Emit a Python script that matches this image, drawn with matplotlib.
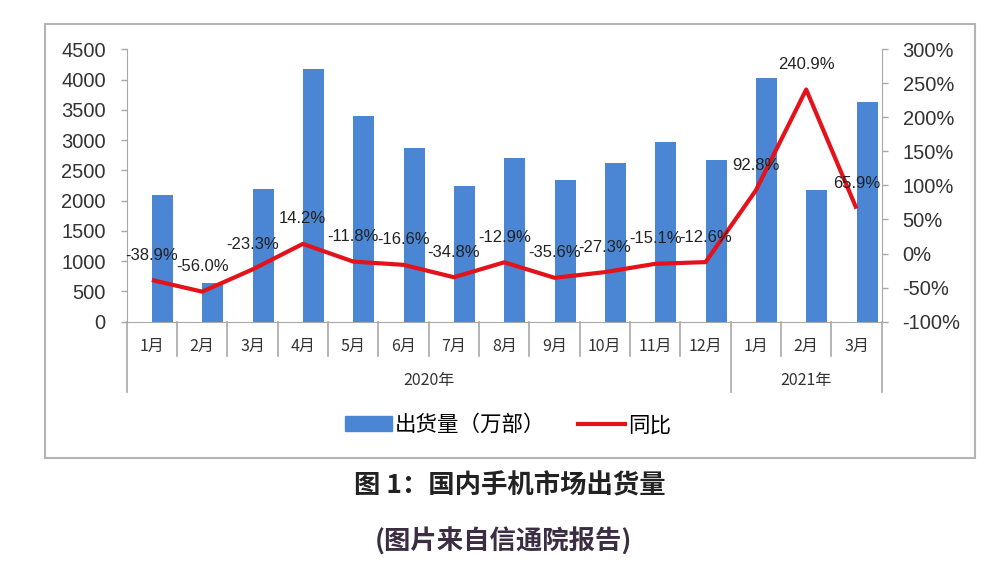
import matplotlib
matplotlib.use("Agg")
import matplotlib.pyplot as plt
import matplotlib.transforms as mtransforms
from matplotlib.patches import Patch, Rectangle
from matplotlib.lines import Line2D

plt.rcParams['font.family'] = ['Liberation Sans', 'Noto Sans CJK SC']

months = ["1月", "2月", "3月", "4月", "5月", "6月", "7月", "8月", "9月",
          "10月", "11月", "12月", "1月", "2月", "3月"]
years = ["2020年", "2021年"]
year_counts = [12, 3]
# shipments, 10k units
shipments = [2090, 640, 2190, 4170, 3390, 2870, 2240, 2700, 2340,
             2620, 2960, 2670, 4020, 2180, 3630]
# year-on-year change, %
yoy = [-38.9, -56.0, -23.3, 14.2, -11.8, -16.6, -34.8, -12.9, -35.6,
       -27.3, -15.1, -12.6, 92.8, 240.9, 65.9]
left_ticks = list(range(0, 4501, 500))
right_ticks = list(range(-100, 301, 50))

blue = "#4a86d3"
red = "#e3121b"
gray = "#a8a8a8"
txt = "#333333"
cjk = ['Noto Sans CJK SC', 'DejaVu Sans']

fig = plt.figure(figsize=(10, 5.73), dpi=100)
ax = fig.add_axes([0.1267, 0.4387, 0.755, 0.4753])
x = list(range(len(months)))

ax.bar(x, shipments, width=0.42, align='edge', color=blue, zorder=2)
ax.set_xlim(-0.5, len(months) - 0.5)
ax.set_ylim(0, 4500)
ax.set_yticks(left_ticks)
ax.set_xticks([])
ax.tick_params(axis='y', length=4, width=1, color=gray, pad=11,
               labelsize=14.5, labelcolor=txt)
for s in ['top', 'right']:
    ax.spines[s].set_visible(False)
ax.spines['left'].set_color(gray)
ax.spines['bottom'].set_color(gray)

ax2 = ax.twinx()
ax2.plot(x, yoy, color=red, lw=3, zorder=3, solid_capstyle='butt')
ax2.set_ylim(-100, 300)
ax2.set_yticks(right_ticks)
ax2.set_yticklabels([f"{t}%" for t in right_ticks])
ax2.tick_params(axis='y', length=4, width=1, color=gray, pad=11,
                labelsize=14.5, labelcolor=txt)
for s in ['top', 'left', 'bottom']:
    ax2.spines[s].set_visible(False)
ax2.spines['right'].set_color(gray)

for i, v in enumerate(yoy):
    ax2.annotate(f"{v:.1f}%", (i, v), xytext=(0, 18), textcoords='offset points',
                 ha='center', va='center', fontsize=12, color='#222222', zorder=4)

# category axis: month separators, month labels, year groups
trans = mtransforms.blended_transform_factory(ax.transData, ax.transAxes)
boundaries = [0]
for c in year_counts:
    boundaries.append(boundaries[-1] + c)
for b in range(len(months) + 1):
    depth = -0.258 if b in boundaries else -0.125
    ax.add_line(Line2D([b - 0.5, b - 0.5], [0, depth], transform=trans,
                       color=gray, lw=1.2, clip_on=False))
for i, m in enumerate(months):
    ax.text(i, -0.092, m, transform=trans, ha='center', va='center',
            fontsize=11.5, color=txt, family=cjk)
for k, y in enumerate(years):
    mid = (boundaries[k] + boundaries[k + 1]) / 2 - 0.5
    ax.text(mid, -0.218, y, transform=trans, ha='center', va='center',
            fontsize=11.5, color=txt, family=cjk)

handles = [Patch(color=blue), Line2D([], [], color=red, lw=3)]
fig.legend(handles, ["出货量（万部）", "同比"], loc='center',
           bbox_to_anchor=(0.508, 0.258), ncol=2, frameon=False,
           handlelength=2.2, handletextpad=0.15, columnspacing=1.5,
           prop={'family': cjk, 'size': 15.5})

fig.patches.append(Rectangle((0.045, 1 - 458 / 573), 0.93, (458 - 24) / 573,
                             transform=fig.transFigure, fill=False,
                             ec='#b4b4b4', lw=1.5))

fig.text(0.51, 1 - 486 / 573, "图 1：国内手机市场出货量", ha='center', va='center',
         fontsize=19, fontweight='bold', color='#222222', family=cjk)
fig.text(0.503, 1 - 541.5 / 573, "(图片来自信通院报告)", ha='center', va='center',
         fontsize=19, fontweight='bold', color='#3b2d42', family=cjk)

fig.savefig("out.png", dpi=100)
